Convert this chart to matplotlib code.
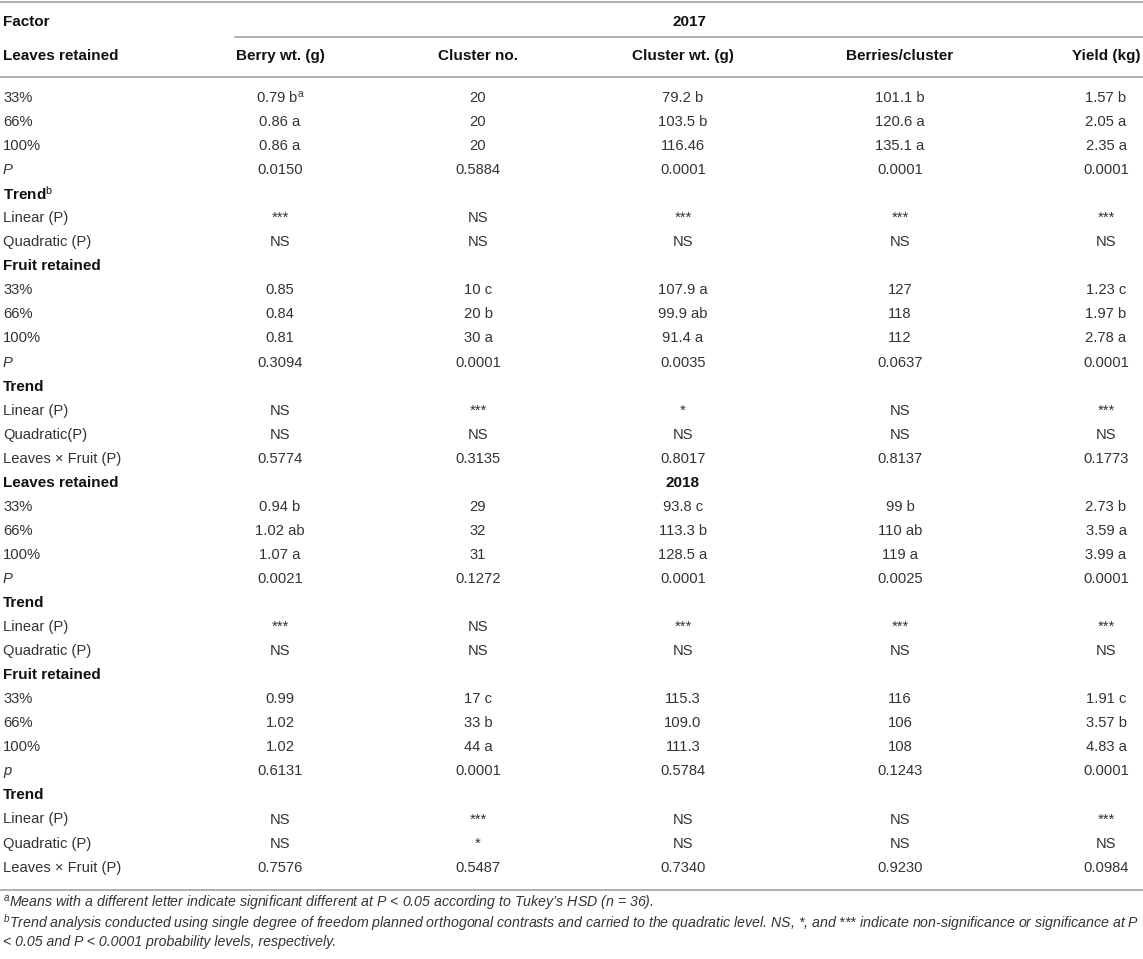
import matplotlib
matplotlib.use('Agg')
import matplotlib.pyplot as plt

plt.rcParams['font.family'] = ['Liberation Sans', 'DejaVu Sans']
plt.rcParams['mathtext.fontset'] = 'custom'
plt.rcParams['mathtext.rm'] = 'Liberation Sans'
plt.rcParams['mathtext.it'] = 'Liberation Sans:italic'
plt.rcParams['mathtext.bf'] = 'Liberation Sans:bold'

# column headings
columns = ['Berry wt. (g)', 'Cluster no.', 'Cluster wt. (g)', 'Berries/cluster', 'Yield (kg)']
years = ['2017', '2018']

# table body: (row label, label style, values)
rows = [
    ('33%', 'normal', ['0.79 b$^{\\rm a}$', '20', '79.2 b', '101.1 b', '1.57 b']),
    ('66%', 'normal', ['0.86 a', '20', '103.5 b', '120.6 a', '2.05 a']),
    ('100%', 'normal', ['0.86 a', '20', '116.46', '135.1 a', '2.35 a']),
    ('P', 'italic', ['0.0150', '0.5884', '0.0001', '0.0001', '0.0001']),
    ('Trend$^{\\rm b}$', 'bold', None),
    ('Linear (P)', 'normal', ['***', 'NS', '***', '***', '***']),
    ('Quadratic (P)', 'normal', ['NS', 'NS', 'NS', 'NS', 'NS']),
    ('Fruit retained', 'bold', None),
    ('33%', 'normal', ['0.85', '10 c', '107.9 a', '127', '1.23 c']),
    ('66%', 'normal', ['0.84', '20 b', '99.9 ab', '118', '1.97 b']),
    ('100%', 'normal', ['0.81', '30 a', '91.4 a', '112', '2.78 a']),
    ('P', 'italic', ['0.3094', '0.0001', '0.0035', '0.0637', '0.0001']),
    ('Trend', 'bold', None),
    ('Linear (P)', 'normal', ['NS', '***', '*', 'NS', '***']),
    ('Quadratic(P)', 'normal', ['NS', 'NS', 'NS', 'NS', 'NS']),
    ('Leaves \u00d7 Fruit (P)', 'normal', ['0.5774', '0.3135', '0.8017', '0.8137', '0.1773']),
    ('Leaves retained', 'bold', 'year2'),
    ('33%', 'normal', ['0.94 b', '29', '93.8 c', '99 b', '2.73 b']),
    ('66%', 'normal', ['1.02 ab', '32', '113.3 b', '110 ab', '3.59 a']),
    ('100%', 'normal', ['1.07 a', '31', '128.5 a', '119 a', '3.99 a']),
    ('P', 'italic', ['0.0021', '0.1272', '0.0001', '0.0025', '0.0001']),
    ('Trend', 'bold', None),
    ('Linear (P)', 'normal', ['***', 'NS', '***', '***', '***']),
    ('Quadratic (P)', 'normal', ['NS', 'NS', 'NS', 'NS', 'NS']),
    ('Fruit retained', 'bold', None),
    ('33%', 'normal', ['0.99', '17 c', '115.3', '116', '1.91 c']),
    ('66%', 'normal', ['1.02', '33 b', '109.0', '106', '3.57 b']),
    ('100%', 'normal', ['1.02', '44 a', '111.3', '108', '4.83 a']),
    ('p', 'italic', ['0.6131', '0.0001', '0.5784', '0.1243', '0.0001']),
    ('Trend', 'bold', None),
    ('Linear (P)', 'normal', ['NS', '***', 'NS', 'NS', '***']),
    ('Quadratic (P)', 'normal', ['NS', '*', 'NS', 'NS', 'NS']),
    ('Leaves \u00d7 Fruit (P)', 'normal', ['0.7576', '0.5487', '0.7340', '0.9230', '0.0984']),
]

footnotes = [
    "$^{a}$Means with a different letter indicate significant different at P < 0.05 according to Tukey\u2019s HSD (n = 36).",
    "$^{b}$Trend analysis conducted using single degree of freedom planned orthogonal contrasts and carried to the quadratic level. NS, *, and *** indicate non-significance or significance at P",
    "< 0.05 and P < 0.0001 probability levels, respectively.",
]

# layout (pixels)
W, H = 1143, 959
col_x = [280, 478, 683, 900, 1106]
label_x = 3
row0, dy = 98, 24.05
body_c = '#333333'
head_c = '#111111'
line_c = '#aaaaaa'
fs = 10.6
fs_head = 11

fig = plt.figure(figsize=(W / 100, H / 100), dpi=100)
ax = fig.add_axes([0, 0, 1, 1])
ax.set_xlim(0, W)
ax.set_ylim(H, 0)
ax.axis('off')

last_row = row0 + (len(rows) - 1) * dy
bottom = last_row + 22

# rules
ax.plot([0, W], [2, 2], color=line_c, lw=1.3)
ax.plot([235, W], [36.5, 36.5], color=line_c, lw=1.3)
ax.plot([0, W], [77, 77], color=line_c, lw=1.3)
ax.plot([0, W], [bottom, bottom], color=line_c, lw=1.3)

# header
ax.text(label_x, 22, 'Factor', fontsize=fs_head, fontweight='bold', color=head_c, va='center')
ax.text((235 + W) / 2, 22, years[0], fontsize=fs_head, fontweight='bold', color=head_c,
        va='center', ha='center')
ax.text(label_x, 56, 'Leaves retained', fontsize=fs_head, fontweight='bold', color=head_c, va='center')
for x, c in zip(col_x, columns):
    ax.text(x, 56, c, fontsize=fs_head, fontweight='bold', color=head_c, va='center', ha='center')

# body
for i, (lab, style, vals) in enumerate(rows):
    y = row0 + i * dy
    if style == 'bold':
        ax.text(label_x, y, lab, fontsize=fs_head, fontweight='bold', color=head_c, va='center')
    elif style == 'italic':
        ax.text(label_x, y, lab, fontsize=fs, style='italic', color=body_c, va='center')
    else:
        ax.text(label_x, y, lab, fontsize=fs, color=body_c, va='center')
    if vals == 'year2':
        ax.text(col_x[2], y, years[1], fontsize=fs_head, fontweight='bold', color=head_c,
                va='center', ha='center')
    elif vals:
        for x, v in zip(col_x, vals):
            ax.text(x, y, v, fontsize=fs, color=body_c, va='center', ha='center')

# footnotes
for j, f in enumerate(footnotes):
    ax.text(label_x, bottom + 14 + j * 19, f, fontsize=10.2, style='italic', color=body_c, va='center')

fig.savefig('out.png', dpi=100)
